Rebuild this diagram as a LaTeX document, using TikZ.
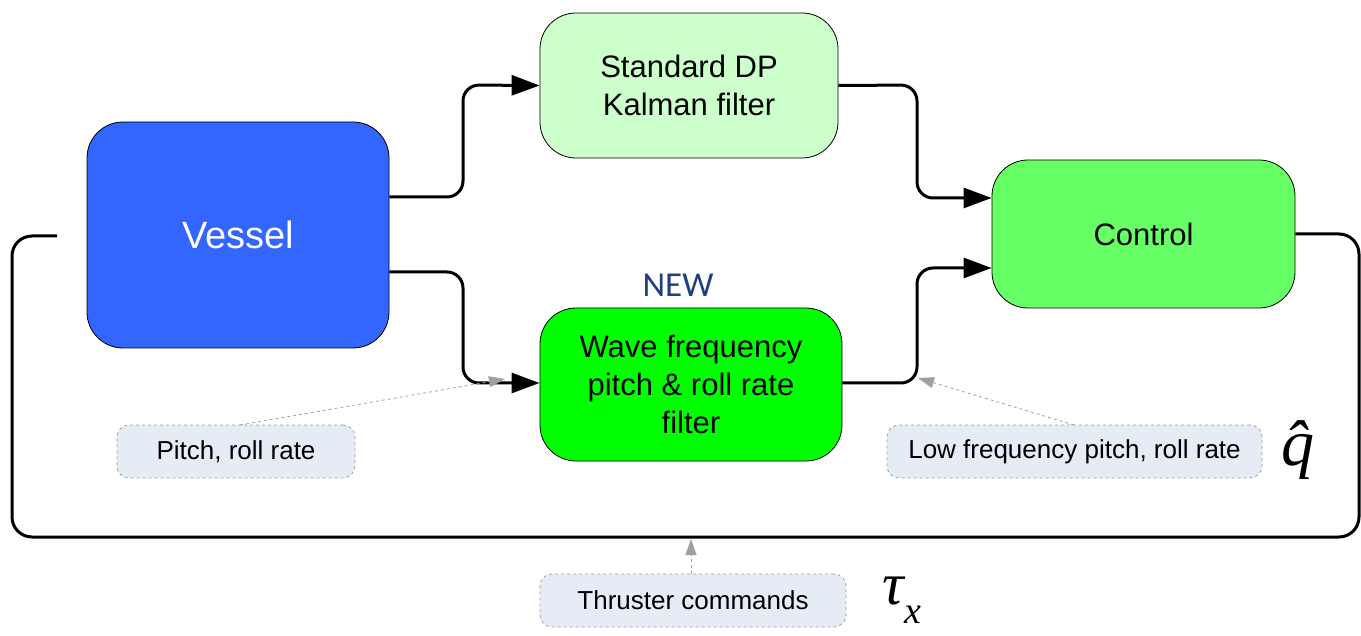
\documentclass[tikz,border=0pt]{standalone}
\usepackage{fontspec}
\setmainfont{Liberation Sans}
\newfontfamily\carl{Carlito}
\newfontfamily\tms{Liberation Serif}
\usetikzlibrary{arrows.meta}
\definecolor{vblue}{HTML}{3366FF}
\definecolor{kfgreen}{HTML}{CCFFCC}
\definecolor{ctgreen}{HTML}{66FF66}
\definecolor{wvgreen}{HTML}{00FF00}
\definecolor{newblue}{HTML}{1F3F7F}
\definecolor{lblfill}{HTML}{E6ECF6}
\definecolor{lblgray}{HTML}{A0A0A0}
\tikzset{
  block/.style={draw=black, line width=0.8pt, rounded corners=36pt, align=center, inner sep=0pt,
    font=\fontsize{31}{38}\selectfont},
  lbl/.style={draw=lblgray, dashed, line width=0.8pt, fill=lblfill, rounded corners=12pt, inner sep=0pt,
    font=\fontsize{26}{30}\selectfont},
  flow/.style={line width=3pt, rounded corners=16pt, -{Triangle[length=28pt,width=20pt]}},
  fb/.style={line width=3pt, rounded corners=20pt},
  note/.style={draw=lblgray, dashed, line width=0.8pt, -{Triangle[length=16pt,width=11pt]}}
}
\begin{document}
\begin{tikzpicture}[x=1pt,y=-1pt]
\useasboundingbox (0,0) rectangle (1361,636);
% blocks
\node[block, fill=vblue, text=white, minimum width=302pt, minimum height=226pt,
  font=\fontsize{38}{42}\selectfont] (vessel) at (238,235) {Vessel};
\node[block, fill=kfgreen, minimum width=298pt, minimum height=145pt] (kf) at (689,85.5)
  {Standard DP\\Kalman filter};
\node[block, fill=ctgreen, minimum width=303pt, minimum height=148pt] (ctrl) at (1143.5,234)
  {Control};
\node[block, fill=wvgreen, minimum width=302pt, minimum height=153pt] (wave) at (691,384.5)
  {Wave frequency\\pitch \& roll rate\\filter};
\node[text=newblue, font=\carl\fontsize{35}{38}\selectfont] (new) at (678,285) {NEW};
% flow arrows
\draw[flow] (vessel.east |- 0,197) -- (463,197) -- (463,85) -- (kf.west);
\draw[flow] (vessel.east |- 0,272) -- (463,272) -- (463,383) -- (wave.west |- 0,383);
\draw[flow] (kf.east) -- (917,85) -- (917,198) -- (ctrl.west |- 0,198);
\draw[flow] (wave.east |- 0,383) -- (917,383) -- (917,268) -- (ctrl.west |- 0,268);
% feedback
\coordinate (fbend) at (57,236);
\draw[fb] (ctrl.east) -- (1359,234) -- (1359,537) -- (12,537) -- (12,236) -- (fbend);
% labels
\node[lbl, minimum width=238pt, minimum height=53pt] (lp) at (236,451.5) {Pitch, roll rate};
\node[lbl, minimum width=375pt, minimum height=53pt] (lf) at (1074.5,451.5) {Low frequency pitch, roll rate};
\node[lbl, minimum width=306pt, minimum height=53pt] (tc) at (693,600.5) {Thruster commands};
\coordinate (lpt) at (505,379);
\coordinate (lft) at (918,378);
\coordinate (tct) at (691,539);
\draw[note] (240,425) -- (lpt);
\draw[note] (1074,425) -- (lft);
\draw[note] (691,574) -- (tct);
% math-like symbols
\node[font=\tms\itshape\fontsize{66}{66}\selectfont, inner sep=0pt] (qhat) at (1298,450) {\^{q}};
\node[font=\tms\itshape\fontsize{60}{60}\selectfont, inner sep=0pt] (tau) at (902,600)
  {τ\raisebox{-0.32em}{\fontsize{38}{38}\selectfont x}};
\end{tikzpicture}
\end{document}
